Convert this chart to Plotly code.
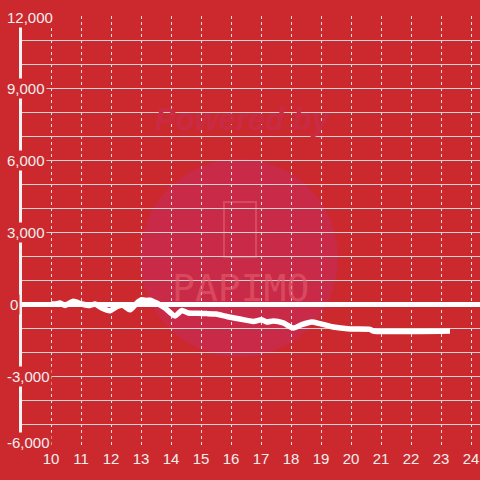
import plotly.graph_objects as go

# ---- data ----
hours = [10.0, 10.15, 10.3, 10.47, 10.74, 11.02, 11.3, 11.47, 11.69, 11.97, 12.19, 12.41,
         12.63, 12.86, 13.02, 13.19, 13.3, 13.52, 13.8, 14.13, 14.36, 14.58, 14.9, 15.19,
         15.5, 15.86, 16.3, 16.74, 17.02, 17.19, 17.41, 17.74, 18.08, 18.36, 18.69, 18.97,
         19.41, 19.97, 20.63, 20.74, 23.3]
pnl = [0, 0, 40, -60, 110, 0, -60, 0, -170, -280, -110, -60,
       -240, 40, 180, 150, 160, 40, -170, -500, -270, -375, -390, -400,
       -420, -520, -625, -725, -655, -750, -710, -790, -1000, -860, -750, -820,
       -960, -1040, -1060, -1125, -1125]

x_tickvals = list(range(10, 25))
x_ticktext = [str(v) for v in x_tickvals]
y_tickvals = [-6000, -3000, 0, 3000, 6000, 9000, 12000]
y_ticktext = ["-6,000", "-3,000", "0", "3,000", "6,000", "9,000", "12,000"]

BG = "#cc292e"
LABEL = "#f2eeee"
FONT = "Liberation Sans, Arial, sans-serif"

fig = go.Figure()
fig.add_trace(go.Scatter(x=hours, y=pnl, mode="lines",
                         line=dict(color="#ffffff", width=5.5, shape="spline", smoothing=0.6),
                         hoverinfo="skip", showlegend=False))

L, T, B = 22, 16, 32
W = 480 - L
H = 480 - T - B

def px(x):
    return (x - L) / W

def py(y):
    return (480 - B - y) / H

annotations = []
for v, t in zip(y_tickvals, y_ticktext):
    shift = 6 if v == y_tickvals[0] else (-1 if v == y_tickvals[-1] else 0)
    xs = 3 if t == "0" else 0
    annotations.append(dict(x=px(5), xref="paper", xanchor="left", y=v, yref="y", yanchor="middle",
                            text=t, showarrow=False, bgcolor=BG, borderpad=1, yshift=shift, xshift=xs,
                            font=dict(family=FONT, size=15, color=LABEL)))

# watermark
annotations.append(dict(x=px(243), y=py(133), xref="paper", yref="paper", yanchor="middle",
                        text="Powered by", yshift=14,
                        showarrow=False, font=dict(family=FONT, size=31, color="#c92b44",
                                                   weight="bold", style="italic")))
annotations.append(dict(x=px(240), y=py(288), xref="paper", yref="paper", text="PAPIMO",
                        showarrow=False, font=dict(family="DejaVu Sans Mono", size=38,
                                                   color="rgba(228,95,110,0.6)")))

shapes = [
    dict(type="circle", xref="paper", yref="paper", layer="below",
         x0=px(140), x1=px(338), y0=py(357), y1=py(159),
         fillcolor="#c92a48", line=dict(width=0)),
    dict(type="rect", xref="paper", yref="paper", layer="below",
         x0=px(224), x1=px(256), y0=py(257), y1=py(202),
         line=dict(color="rgba(228,95,110,0.6)", width=2)),
]

fig.update_layout(
    width=480, height=480,
    margin=dict(l=L, r=0, t=T, b=B),
    paper_bgcolor=BG, plot_bgcolor="rgba(0,0,0,0)",
    font=dict(family=FONT, size=15, color=LABEL),
    annotations=annotations, shapes=shapes,
    xaxis=dict(range=[9.033, 24.3], tickvals=x_tickvals, ticktext=x_ticktext,
               showgrid=True, gridcolor="#e0e0e0", gridwidth=1, griddash="dot",
               zeroline=False, showline=False, ticks="", tickfont=dict(size=15, color=LABEL)),
    yaxis=dict(range=[-6000, 12000], dtick=1000, showticklabels=False,
               showgrid=True, gridcolor="#d4d4d4", gridwidth=1,
               zeroline=True, zerolinecolor="#ffffff", zerolinewidth=5,
               showline=True, linecolor="#f2f2f2", linewidth=3, ticks=""),
)

fig.write_html("out.html", config={"displayModeBar": False},
               post_script="document.body.style.margin='0';document.body.style.background='%s';" % BG)
